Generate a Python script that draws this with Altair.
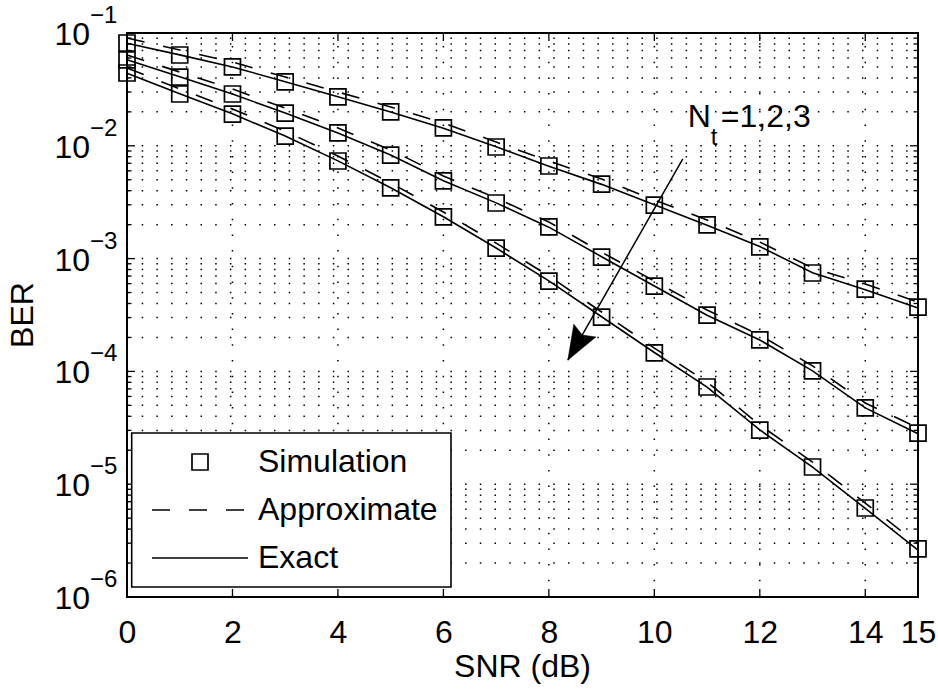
import altair as alt
import pandas as pd

# ---------------- data ----------------
snr = list(range(16))

sim_nt1 = [0.0815, 0.0638, 0.0500, 0.0368, 0.0271, 0.0200, 0.0144, 0.00976,
           0.00662, 0.00458, 0.00298, 0.00199, 0.00127, 0.000745, 0.000537, 0.000372]
sim_nt2 = [0.0577, 0.0407, 0.0288, 0.0195, 0.0130, 0.00828, 0.00488, 0.00311,
           0.00191, 0.00103, 0.000571, 0.000316, 0.000190, 0.000101, 4.74e-5, 2.84e-5]
sim_nt3 = [0.0442, 0.0288, 0.0191, 0.0122, 0.00733, 0.00423, 0.00234, 0.00124,
           0.000632, 0.000303, 0.000146, 7.27e-5, 3.02e-5, 1.42e-5, 6.15e-6, 2.67e-6]

exact_nt1 = [0.0810, 0.0640, 0.0500, 0.0370, 0.0272, 0.0199, 0.0143, 0.00980,
             0.00660, 0.00455, 0.00300, 0.00198, 0.00128, 0.000750, 0.000530, 0.000365]
exact_nt2 = [0.0580, 0.0410, 0.0288, 0.0195, 0.0130, 0.00830, 0.00490, 0.00312,
             0.00190, 0.00104, 0.000572, 0.000315, 0.000190, 0.000101, 4.75e-5, 2.80e-5]
exact_nt3 = [0.0440, 0.0290, 0.0192, 0.0122, 0.00735, 0.00425, 0.00235, 0.00124,
             0.000635, 0.000305, 0.000147, 7.25e-5, 3.03e-5, 1.42e-5, 6.10e-6, 2.60e-6]

approx_nt1 = [0.0903, 0.0707, 0.0553, 0.0407, 0.0300, 0.0221, 0.0159, 0.0108,
              0.00733, 0.00508, 0.00331, 0.00220, 0.00140, 0.000826, 0.000596, 0.000412]
approx_nt2 = [0.0638, 0.0451, 0.0319, 0.0216, 0.0144, 0.00918, 0.00540, 0.00344,
              0.00211, 0.00114, 0.000632, 0.000350, 0.000210, 0.000112, 5.25e-5, 3.15e-5]
approx_nt3 = [0.0490, 0.0319, 0.0212, 0.0135, 0.00812, 0.00468, 0.00259, 0.00137,
              0.000701, 0.000336, 0.000161, 8.05e-5, 3.35e-5, 1.57e-5, 6.81e-6, 2.95e-6]

x_tick_values = [0, 2, 4, 6, 8, 10, 12, 14, 15]
x_grid_values = [2, 4, 6, 8, 10, 12, 14]
y_decades = [1e-6, 1e-5, 1e-4, 1e-3, 1e-2, 1e-1]
y_exponents = ["\u22126", "\u22125", "\u22124", "\u22123", "\u22122", "\u22121"]
minor_multipliers = [2, 3, 4, 5, 6, 7, 8, 9]

legend_labels = ["Simulation", "Approximate", "Exact"]
annotation_main = "N"
annotation_sub = "t"
annotation_rest = "=1,2,3"

# arrow: start / tip in data coordinates
arrow_start = (10.54, 0.00764)
arrow_tip = (8.36, 1.26e-4)
text_anchor = (10.635, 0.01468)

# ---------------- layout ----------------
W, H = 791, 564
FONT = "Liberation Sans"
FS = 32

xscale = alt.Scale(domain=[0, 15], nice=False, zero=False)
yscale = alt.Scale(type="log", domain=[1e-6, 1e-1], nice=False)
xaxis = alt.Axis(values=x_tick_values, labelFontSize=FS, labelFont=FONT,
                 labelColor="black", ticks=False, tickSize=0, domain=False,
                 grid=False, labelPadding=20, labelFlush=False,
                 labelOverlap=False, title=None, format="d")


def X(field):
    return alt.X(field, type="quantitative", scale=xscale, axis=xaxis, title=None)


def Y(field):
    return alt.Y(field, type="quantitative", scale=yscale, axis=None, title=None)


def build(curves, kind):
    rows = []
    for i, arr in enumerate(curves):
        for s, b in zip(snr, arr):
            rows.append({"snr": s, "ber": b, "curve": f"Nt={i+1}", "kind": kind})
    return pd.DataFrame(rows)


sim_df = build([sim_nt1, sim_nt2, sim_nt3], "Simulation")
exact_df = build([exact_nt1, exact_nt2, exact_nt3], "Exact")
approx_df = build([approx_nt1, approx_nt2, approx_nt3], "Approximate")

one = pd.DataFrame({"a": [0]})

# ---------------- grid ----------------
grid_y = [d for d in y_decades[1:-1]] + [m * d for d in y_decades[:-1] for m in minor_multipliers]
hgrid = alt.Chart(pd.DataFrame({"v": grid_y})).mark_rule(
    color="black", strokeWidth=1.5, strokeDash=[1.5, 13.2]
).encode(y=Y("v"), x=alt.value(0), x2=alt.value(W))

vgrid = alt.Chart(pd.DataFrame({"v": x_grid_values})).mark_rule(
    color="black", strokeWidth=1.5, strokeDash=[1.5, 14.2]
).encode(x=X("v"), y=alt.value(H), y2=alt.value(0))

# ---------------- ticks (inward) ----------------
major_df = pd.DataFrame({"v": y_decades})
minor_df = pd.DataFrame({"v": [m * d for d in y_decades[:-1] for m in minor_multipliers]})
tick_layers = []
for df, ln in [(major_df, 8), (minor_df, 4.5)]:
    tick_layers.append(alt.Chart(df).mark_rule(color="black", strokeWidth=1.3).encode(
        y=Y("v"), x=alt.value(0), x2=alt.value(ln)))
    tick_layers.append(alt.Chart(df).mark_rule(color="black", strokeWidth=1.3).encode(
        y=Y("v"), x=alt.value(W), x2=alt.value(W - ln)))
xt_df = pd.DataFrame({"v": x_tick_values})
tick_layers.append(alt.Chart(xt_df).mark_rule(color="black", strokeWidth=1.3).encode(
    x=X("v"), y=alt.value(H), y2=alt.value(H - 8)))
tick_layers.append(alt.Chart(xt_df).mark_rule(color="black", strokeWidth=1.3).encode(
    x=X("v"), y=alt.value(0), y2=alt.value(8)))

# ---------------- y tick labels (10 with superscript) ----------------
ylab_df = pd.DataFrame({"v": y_decades, "exp": y_exponents})
ylab_base = alt.Chart(ylab_df).mark_text(
    align="right", baseline="middle", fontSize=FS, font=FONT, color="black", dy=2
).encode(y=Y("v"), x=alt.value(-37), text=alt.value("10"))
ylab_exp = alt.Chart(ylab_df).mark_text(
    align="left", baseline="middle", fontSize=24, font=FONT, color="black", dy=-17
).encode(y=Y("v"), x=alt.value(-37), text="exp:N")

# ---------------- axis titles ----------------
ytitle = alt.Chart(one).mark_text(
    fontSize=FS, font=FONT, color="black", angle=270, baseline="middle", align="center"
).encode(x=alt.value(-104), y=alt.value(H / 2), text=alt.value("BER"))
xtitle = alt.Chart(one).mark_text(
    fontSize=FS, font=FONT, color="black", baseline="middle", align="center"
).encode(x=alt.value(W / 2), y=alt.value(634), text=alt.value("SNR (dB)"))

# ---------------- data marks ----------------
exact_lines = alt.Chart(exact_df).mark_line(color="black", strokeWidth=1.6).encode(
    x=X("snr"), y=Y("ber"), detail="curve:N")
approx_lines = alt.Chart(approx_df).mark_line(
    color="black", strokeWidth=1.6, strokeDash=[18, 19]).encode(
    x=X("snr"), y=Y("ber"), detail="curve:N")
squares = alt.Chart(sim_df).mark_point(
    shape="square", filled=False, size=256, color="black", strokeWidth=1.7, opacity=1
).encode(x=X("snr"), y=Y("ber"))

# ---------------- legend (drawn) ----------------
LX0, LX1, LY0, LY1 = 4.7, 324, 400, 554
rows_y = [429, 477, 525]
leg_box = alt.Chart(one).mark_rect(fill="white", stroke="black", strokeWidth=1.6).encode(
    x=alt.value(LX0), x2=alt.value(LX1), y=alt.value(LY0), y2=alt.value(LY1))
leg_sq = alt.Chart(one).mark_point(
    shape="square", filled=False, size=256, color="black", strokeWidth=1.7, opacity=1
).encode(x=alt.value(73), y=alt.value(rows_y[0]))
leg_dash = alt.Chart(one).mark_rule(color="black", strokeWidth=1.6, strokeDash=[18, 19]).encode(
    x=alt.value(25), x2=alt.value(121), y=alt.value(rows_y[1]))
leg_solid = alt.Chart(one).mark_rule(color="black", strokeWidth=1.6).encode(
    x=alt.value(25), x2=alt.value(121), y=alt.value(rows_y[2]))
leg_text = alt.Chart(pd.DataFrame({"t": legend_labels, "ry": rows_y})).mark_text(
    align="left", baseline="middle", fontSize=FS, font=FONT, color="black"
).encode(x=alt.value(131), y=alt.Y("ry:Q", scale=None, axis=None), text="t:N")

# ---------------- annotation ----------------
arrow_df = pd.DataFrame({"x0": [arrow_start[0]], "y0": [arrow_start[1]],
                         "x1": [arrow_tip[0]], "y1": [arrow_tip[1]]})
arrow_line = alt.Chart(arrow_df).mark_rule(color="black", strokeWidth=1.5).encode(
    x=X("x0"), y=Y("y0"), x2="x1:Q", y2="y1:Q")
arrow_head = alt.Chart(arrow_df).mark_point(
    shape="M0,0 L-0.75,-2 L0,-1.7 L0.75,-2 Z", filled=True, fill="black",
    stroke="black", strokeWidth=0.5, size=1156, angle=30, opacity=1
).encode(x=X("x1"), y=Y("y1"))

ann_df = pd.DataFrame({"x": [text_anchor[0]], "y": [text_anchor[1]]})
ann_n = alt.Chart(ann_df).mark_text(
    align="left", baseline="alphabetic", fontSize=FS, font=FONT, color="black"
).encode(x=X("x"), y=Y("y"), text=alt.value(annotation_main))
ann_t = alt.Chart(ann_df).mark_text(
    align="left", baseline="alphabetic", fontSize=24, font=FONT, color="black", dx=23, dy=18
).encode(x=X("x"), y=Y("y"), text=alt.value(annotation_sub))
ann_rest = alt.Chart(ann_df).mark_text(
    align="left", baseline="alphabetic", fontSize=FS, font=FONT, color="black", dx=33
).encode(x=X("x"), y=Y("y"), text=alt.value(annotation_rest))

chart = alt.layer(
    hgrid, vgrid, exact_lines, approx_lines, squares, *tick_layers,
    ylab_base, ylab_exp, ytitle, xtitle,
    leg_box, leg_sq, leg_dash, leg_solid, leg_text,
    arrow_line, arrow_head, ann_n, ann_t, ann_rest
).properties(
    width=W, height=H,
    autosize=alt.AutoSizeParams(type="none"),
    padding={"left": 127, "top": 33, "right": 20, "bottom": 92},
    background="white",
).configure_view(stroke="black", strokeWidth=2)

chart.save("out.html", embed_options={"renderer": "svg", "actions": False})
